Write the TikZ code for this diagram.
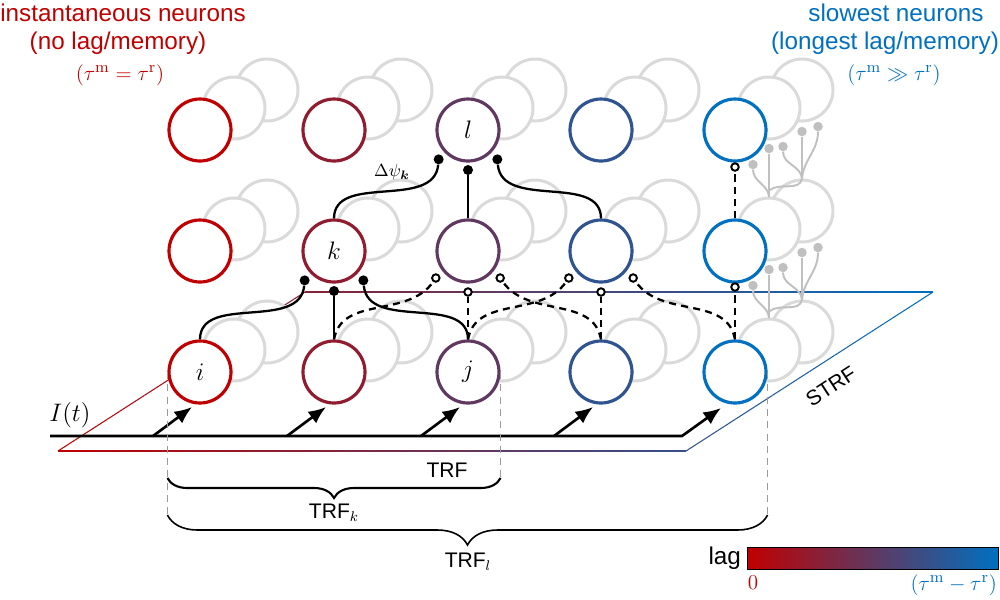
\documentclass[tikz,border=0pt]{standalone}
\usepackage{amsmath,amssymb}
\usepackage{fontspec}
\setsansfont{Liberation Sans}
\usepackage{xcolor}
\usepackage{tikz}
\usetikzlibrary{calc,arrows.meta,decorations.pathreplacing,positioning}
\definecolor{fast}{HTML}{C00000}
\definecolor{slow}{HTML}{0070C0}
\definecolor{ghostgray}{HTML}{DADADA}
\definecolor{dendgray}{HTML}{C0C0C0}
\definecolor{guidegray}{HTML}{9A9A9A}
\tikzset{
  neuron/.style={circle, draw, fill=white, line width=1.8pt, minimum size=12.4mm, inner sep=0pt},
  ghostn/.style={circle, draw=ghostgray, fill=white, line width=1.7pt, minimum size=12.4mm, inner sep=0pt},
  syn/.style={draw=black, line width=1.3pt},
  synd/.style={syn, dash pattern=on 4pt off 3pt},
  fdot/.style={circle, fill=black, inner sep=0pt, minimum size=2mm},
  odot/.style={circle, draw=black, fill=white, line width=1.1pt, inner sep=0pt, minimum size=1.5mm},
  ddot/.style={circle, fill=dendgray, inner sep=0pt, minimum size=1.9mm},
  dend/.style={draw=dendgray, line width=1.1pt},
  drive/.style={draw=black, line width=1.5pt, -{Latex[length=3.5mm,width=2.9mm]}},
  plane/.style={line width=0.6pt},
  guide/.style={draw=guidegray, dash pattern=on 4pt off 3pt, line width=0.8pt},
  brk/.style={decorate, decoration={brace, mirror, amplitude=4mm}, line width=1.2pt},
  brl/.style={decorate, decoration={brace, mirror, amplitude=6mm}, line width=0.9pt},
  lab/.style={font=\fontsize{13}{15}\selectfont},
  nlab/.style={font=\fontsize{15}{17}\selectfont},
  head/.style={font=\sffamily\fontsize{13.8}{16}\selectfont},
  trf/.style={font=\sffamily\fontsize{12}{14}\selectfont},
  cbar/.style={draw=black, line width=0.5pt, left color=fast, right color=slow, minimum width=50.2mm, minimum height=4.4mm, inner sep=0pt},
}
\begin{document}
\begin{tikzpicture}[x=0.2mm,y=0.2mm]
  \useasboundingbox (0,0) rectangle (1000,-599);
  % STRF plane, colour running with the lag
  \foreach \k in {0,...,19}{
    \pgfmathtruncatemacro\cb{100-3.589*(\k+0.5)}
    \pgfmathtruncatemacro\ct{100-28.23-3.589*(\k+0.5)}
    \pgfmathtruncatemacro\cl{100-1.411*(\k+0.5)}
    \pgfmathtruncatemacro\cr{100-71.77-1.411*(\k+0.5)}
    \draw[plane, fast!\cb!slow] ({58+31.4*\k},-451) -- ({58+31.4*(\k+1)},-451);
    \draw[plane, fast!\ct!slow] ({305+31.4*\k},-292) -- ({305+31.4*(\k+1)},-292);
    \draw[plane, fast!\cl!slow] ({58+12.35*\k},{-451+7.95*\k}) -- ({58+12.35*(\k+1)},{-451+7.95*(\k+1)});
    \draw[plane, fast!\cr!slow] ({686+12.35*\k},{-451+7.95*\k}) -- ({686+12.35*(\k+1)},{-451+7.95*(\k+1)});
  }
  % neurons with their lagged copies behind
  \foreach \c/\x/\p in {1/200/100,2/334/75,3/468/50,4/601/25,5/735/0}{
    \foreach \r/\y in {t/-130,m/-251,b/-372}{
      \node[ghostn] (\r\c-g2) at (\x+67,\y+40) {};
      \node[ghostn] (\r\c-g1) at (\x+34,\y+22) {};
      \node[neuron, draw=fast!\p!slow] (\r\c) at (\x,\y) {};
    }
  }
  \node[nlab] (lbl-i) at (b1) {$i$};
  \node[nlab] (lbl-j) at (b3) {$j$};
  \node[nlab] (lbl-k) at (m2) {$k$};
  \node[nlab] (lbl-l) at (t3) {$l$};
  % grey dendrites of the slow copies
  \foreach \r in {m,b}{
    \coordinate (\r-da) at (\r5-g1.north);
    \coordinate (\r-db) at (\r5-g2.north);
    \node[ddot] (\r-d1) at ($(\r-da)+(-16,32)$) {};
    \node[ddot] (\r-d2) at ($(\r-da)+(0,48)$) {};
    \node[ddot] (\r-d3) at ($(\r-db)+(-19,32)$) {};
    \node[ddot] (\r-d4) at ($(\r-db)+(0,47)$) {};
    \node[ddot] (\r-d5) at ($(\r-db)+(16,52)$) {};
    \draw[dend] (\r-d1) to[out=-90,in=95] (\r-da);
    \draw[dend] (\r-d2) -- (\r-da);
    \draw[dend] (\r-d3) to[out=-90,in=95] (\r-db);
    \draw[dend] (\r-d4) -- (\r-db);
    \draw[dend] (\r-d5) to[out=-90,in=85] (\r-db);
    \draw[dend] ($(\r-da)+(0,6)$) to[out=40,in=-100] (\r-db);
  }
  % synapse ends
  \foreach \n in {t3,m2}{
    \node[fdot] (\n-sw) at ($(\n)+(-135:8.3mm)$) {};
    \node[fdot] (\n-s) at ($(\n)+(0,-40)$) {};
    \node[fdot] (\n-se) at ($(\n)+(-45:8.3mm)$) {};
  }
  \foreach \n in {m3,m4}{
    \node[odot] (\n-sw) at ($(\n)+(-140:8.4mm)$) {};
    \node[odot] (\n-s) at ($(\n)+(0,-41)$) {};
    \node[odot] (\n-se) at ($(\n)+(-40:8.4mm)$) {};
  }
  \node[odot] (m5-s) at ($(m5)+(0,-36)$) {};
  \node[odot] (t5-s) at ($(t5)+(0,-37)$) {};
  \draw[syn] (m2.north) to[out=90,in=-95] (t3-sw);
  \draw[syn] (m3.north) -- (t3-s);
  \draw[syn] (m4.north) to[out=90,in=-85] (t3-se);
  \draw[syn] (b1.north) to[out=90,in=-95] (m2-sw);
  \draw[syn] (b2.north) -- (m2-s);
  \draw[syn] (b3.north) to[out=90,in=-85] (m2-se);
  \draw[synd] (b2.north) to[out=80,in=-125] (m3-sw);
  \draw[synd] (b3.north) -- (m3-s);
  \draw[synd] (b4.north) to[out=100,in=-55] (m3-se);
  \draw[synd] (b3.north) to[out=80,in=-125] (m4-sw);
  \draw[synd] (b4.north) -- (m4-s);
  \draw[synd] (b5.north) to[out=100,in=-55] (m4-se);
  \draw[synd] (b5.north) -- (m5-s);
  \draw[synd] (m5.north) -- (t5-s);
  \node[font=\fontsize{10}{12}\selectfont] (dpsi) at (392,-172) {$\Delta\psi_{\boldsymbol{k}}$};
  % input current
  \coordinate (in0) at (50,-436);
  \foreach \c in {1,...,4}{
    \coordinate (in\c) at ($(b\c)+(-47,-64)$);
    \draw[drive] (in\c) -- ($(b\c)+(-8,-35)$);
  }
  \coordinate (in5) at ($(b5)+(-53,-64)$);
  \draw[drive] (in0) -- (in5) -- ($(b5)+(-14,-36)$);
  \node[font=\fontsize{15}{17}\selectfont] (it) at (70,-415) {$I(t)$};
  \node[trf, rotate=33] (strf) at (831,-386) {STRF};
  % receptive fields
  \coordinate (kL) at ($(b1.west)+(0,-106)$);
  \coordinate (kR) at ($(b3.east)+(0,-106)$);
  \coordinate (lL) at ($(b1.west)+(0,-143)$);
  \coordinate (lR) at ($(b5.east)+(0,-143)$);
  \draw[guide] (b1.west) -- (lL);
  \draw[guide] (b3.east) -- (kR);
  \draw[guide] (b5.east) -- (lR);
  \draw[brk] (kL) -- (kR);
  \draw[brl] (lL) -- (lR);
  \node[trf] (trf-j) at (447,-470) {TRF};
  \node[trf] (trf-k) at (334,-513) {TRF$_k$};
  \node[trf] (trf-l) at (468,-562) {TRF$_l$};
  % titles
  \node[head, text=fast] (fast-a) at (123,-13) {instantaneous neurons};
  \node[head, text=fast] (fast-b) at (118,-43) {(no lag/memory)};
  \node[lab, text=fast] (fast-c) at (120,-75) {$(\tau^{\mathrm{m}}=\tau^{\mathrm{r}})$};
  \node[head, text=slow] (slow-a) at (896,-13) {slowest neurons};
  \node[head, text=slow] (slow-b) at (885,-43) {(longest lag/memory)};
  \node[lab, text=slow] (slow-c) at (894,-75) {$(\tau^{\mathrm{m}}\gg\tau^{\mathrm{r}})$};
  % colour bar
  \node[cbar] (bar) at (872.5,-558) {};
  \node[head, anchor=east, inner sep=3pt] (lag) at (bar.west) {lag};
  \node[text=fast, font=\fontsize{12}{14}\selectfont] (zero) at (753,-583) {$0$};
  \node[lab, text=slow, anchor=east, inner sep=1pt] (lagmax) at (999,-585) {$(\tau^{\mathrm{m}}-\tau^{\mathrm{r}})$};
\end{tikzpicture}
\end{document}
